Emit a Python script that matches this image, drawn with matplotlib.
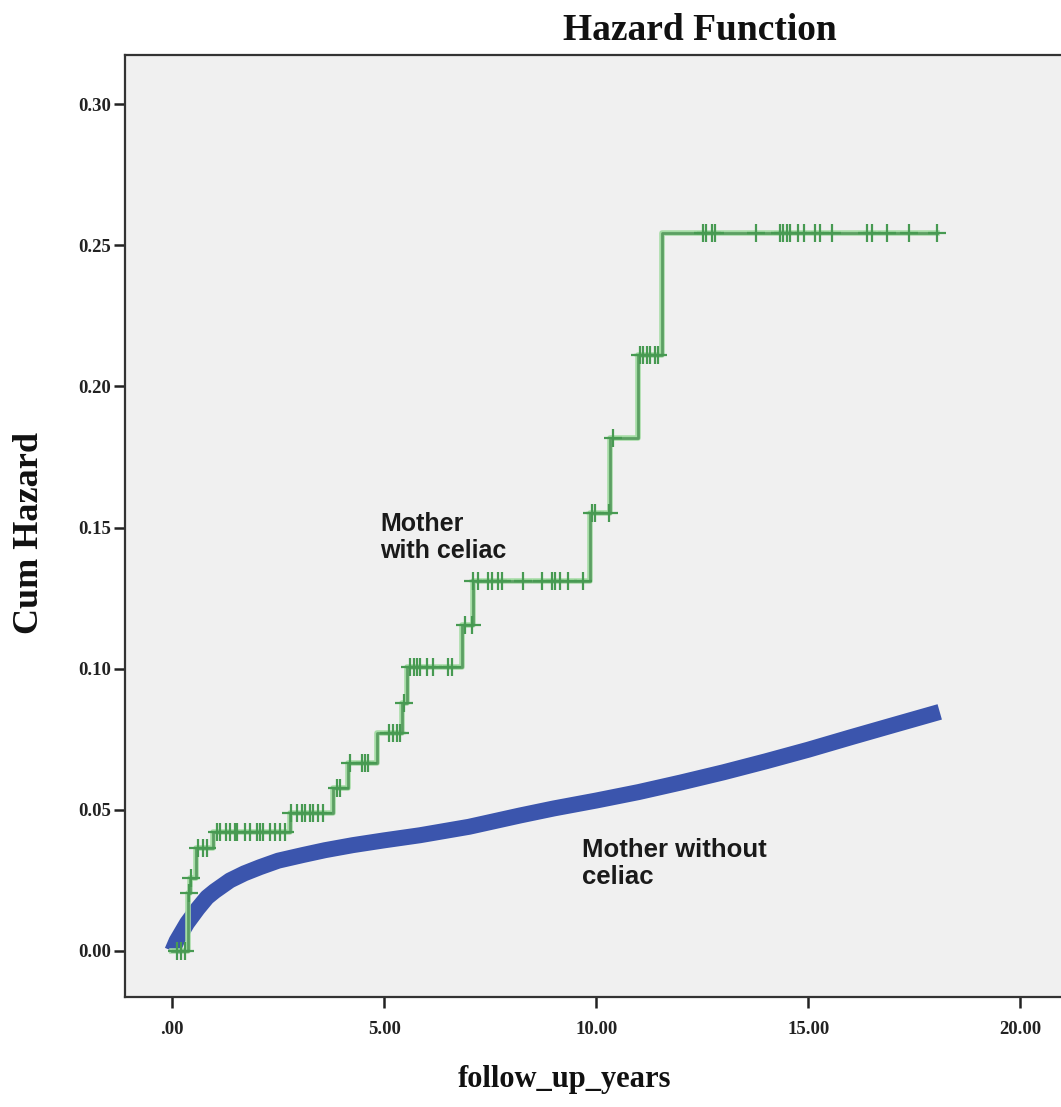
import matplotlib
matplotlib.use('Agg')
import matplotlib.pyplot as plt
import numpy as np

# ---- data ----
# Mother with celiac: step function (jump times, levels after jump)
green_jump_t = [0.0, 0.37, 0.42, 0.56, 0.96, 2.78, 3.79, 4.15, 4.83, 5.42, 5.53,
                6.83, 7.09, 9.85, 10.32, 10.98, 11.55]
green_level = [0.0, 0.0205, 0.026, 0.0365, 0.042, 0.049, 0.0577, 0.0666, 0.0772,
               0.088, 0.1005, 0.1155, 0.131, 0.155, 0.1817, 0.211, 0.2543]
green_end_t = 18.03
green_censor_t = [0.10, 0.20, 0.30, 0.40, 0.45, 0.61, 0.73, 0.82,
                  1.05, 1.12, 1.27, 1.36, 1.48, 1.53, 1.71, 1.83, 1.99, 2.07, 2.15,
                  2.31, 2.42, 2.54, 2.66,
                  2.80, 2.94, 3.05, 3.13, 3.25, 3.33, 3.44, 3.56,
                  3.88, 3.96,
                  4.19, 4.47, 4.55, 4.62,
                  5.10, 5.21, 5.29, 5.37,
                  5.46,
                  5.61, 5.69, 5.76, 5.84, 6.00, 6.16, 6.51, 6.59,
                  6.90, 7.06,
                  7.10, 7.22, 7.45, 7.53, 7.69, 7.77, 8.28, 8.71, 8.95, 9.03, 9.14,
                  9.34, 9.69,
                  9.89, 9.97, 10.31,
                  10.39,
                  11.03, 11.11, 11.19, 11.27, 11.38, 11.46,
                  12.52, 12.58, 12.73, 12.80, 13.77, 14.33, 14.40, 14.49, 14.57,
                  14.76, 14.90, 15.16, 15.28, 15.56, 16.38, 16.50, 16.85, 17.37, 18.03]

# Mother without celiac: dense cumulative hazard curve (points read along the band)
blue_t = [0.0, 0.1, 0.35, 0.6, 0.82, 1.0, 1.36, 1.7, 2.07, 2.5, 3.08, 3.6, 4.26,
          5.0, 5.84, 7.0, 8.2, 9.0, 10.0, 11.0, 12.0, 13.0, 14.0, 15.0, 16.0,
          17.0, 18.1]
blue_h = [0.0, 0.0035, 0.0099, 0.0150, 0.0190, 0.0212, 0.0250, 0.0275, 0.0297,
          0.0320, 0.0340, 0.0357, 0.0375, 0.0392, 0.0410, 0.0440, 0.0480, 0.0505,
          0.0533, 0.0563, 0.0597, 0.0633, 0.0672, 0.0713, 0.0757, 0.0800, 0.0847]

x_ticks = [0, 5, 10, 15, 20]
x_ticklabels = ['.00', '5.00', '10.00', '15.00', '20.00']
y_ticks = [0.00, 0.05, 0.10, 0.15, 0.20, 0.25, 0.30]
y_ticklabels = ['0.00', '0.05', '0.10', '0.15', '0.20', '0.25', '0.30']

# ---- figure ----
W, H = 1061, 1107
fig = plt.figure(figsize=(W / 100, H / 100), dpi=100)
fig.patch.set_facecolor('white')
ax = fig.add_axes([125 / W, 1 - 997 / H, (W - 125) / W, (997 - 55) / H])
ax.set_facecolor('#f0f0f0')

serif = ['Liberation Serif', 'DejaVu Serif']
sans = ['Liberation Sans', 'DejaVu Sans']

# blue curve
ax.plot(blue_t, blue_h, color='#3b55ad', lw=11.5, solid_capstyle='butt',
        solid_joinstyle='round', zorder=2)

# green step curve
gx = list(green_jump_t) + [green_end_t]
gy = list(green_level) + [green_level[-1]]
ax.step(gx, gy, where='post', color='#a5dca5', lw=4.0, zorder=3)
ax.step(gx, gy, where='post', color='#5c9f63', lw=2.0, zorder=4)
idx = np.searchsorted(green_jump_t, green_censor_t, side='right') - 1
cy = np.array(green_level)[idx]
ax.plot(green_censor_t, cy, linestyle='none', marker='+', markersize=13,
        markeredgewidth=1.6, color='#479a52', zorder=5)

ax.set_xlim(-1.115, 20.96)
ax.set_ylim(-0.0163, 0.3174)
ax.set_xticks(x_ticks)
ax.set_xticklabels(x_ticklabels, family=serif, fontsize=13.5, fontweight='bold')
ax.set_yticks(y_ticks)
ax.set_yticklabels(y_ticklabels, family=serif, fontsize=13.5, fontweight='bold')
ax.tick_params(axis='both', direction='out', length=8, width=1.8, color='#222222',
               labelcolor='#222222')
ax.tick_params(axis='x', pad=9)
ax.tick_params(axis='y', pad=2)
for s in ['left', 'bottom', 'top']:
    ax.spines[s].set_color('#333333')
    ax.spines[s].set_linewidth(1.6)
ax.spines['right'].set_visible(False)

ax.text(4.90, 0.1555, 'Mother\nwith celiac', family=sans, fontsize=18,
        fontweight='bold', color='#1a1a1a', ha='left', va='top', linespacing=1.15,
        zorder=6)
ax.text(9.66, 0.0400, 'Mother without\nceliac', family=sans, fontsize=18.5,
        fontweight='bold', color='#1a1a1a', ha='left', va='top', linespacing=1.15,
        zorder=6)

fig.text(700 / W, 1 - 30 / H, 'Hazard Function', family=serif, fontsize=27,
         fontweight='bold', ha='center', va='center', color='#111111')
fig.text(565 / W, 1 - 1080 / H, 'follow_up_years', family=serif, fontsize=22,
         fontweight='bold', ha='center', va='center', color='#111111')
fig.text(30 / W, 1 - 533 / H, 'Cum Hazard', family=serif, fontsize=26,
         fontweight='bold', ha='center', va='center', rotation=90, color='#111111')

fig.savefig('out.png', dpi=100)
